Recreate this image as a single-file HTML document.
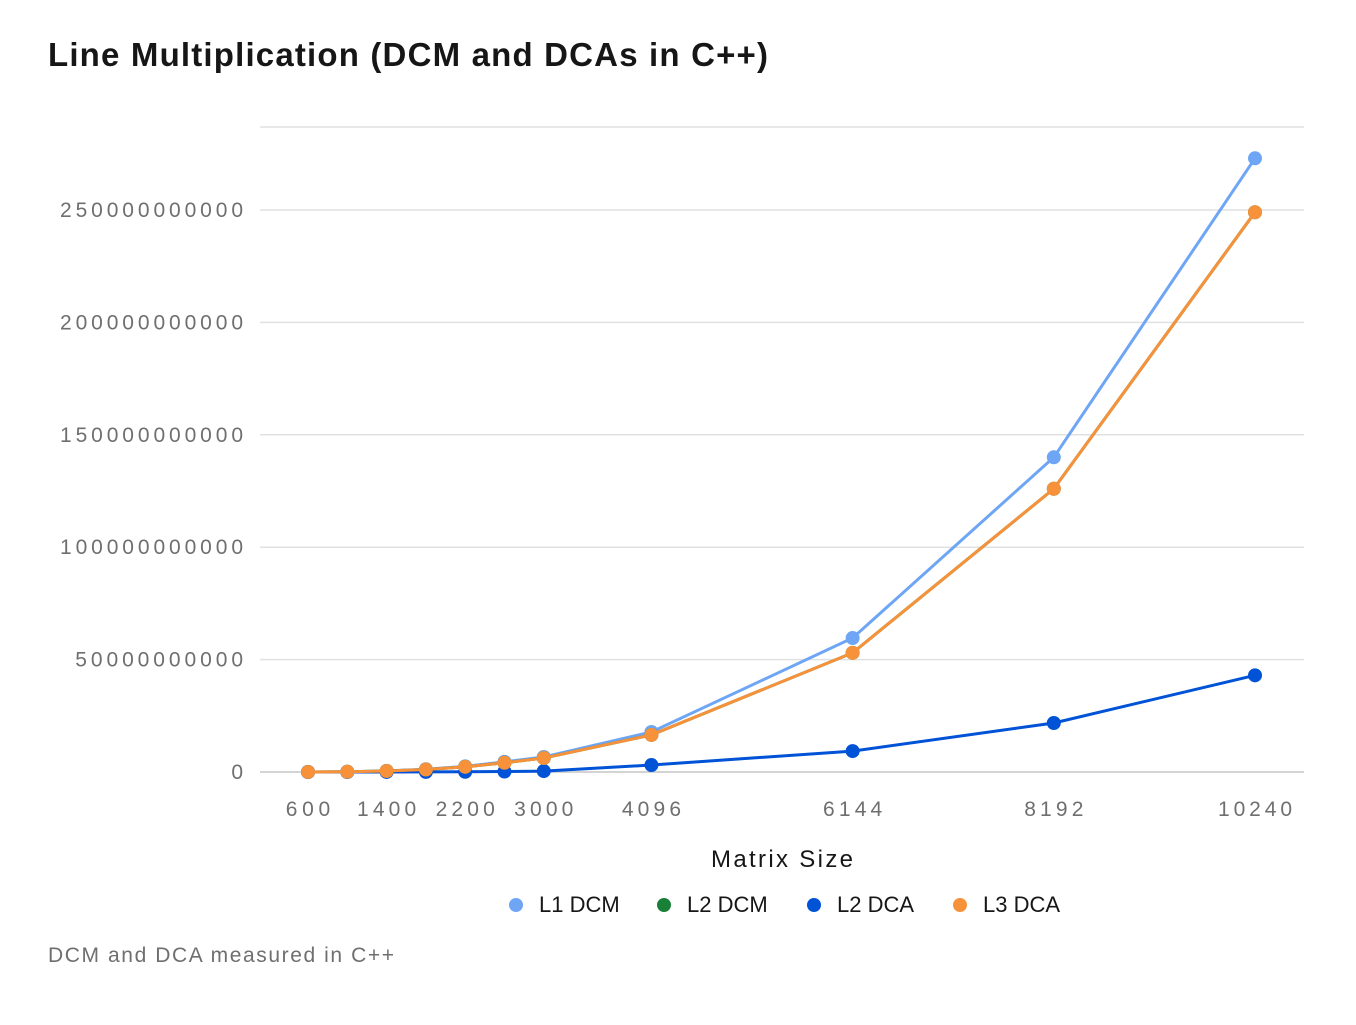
<!DOCTYPE html>
<html><head><meta charset="utf-8"><style>
body{margin:0;background:#fff;font-family:"Liberation Sans",sans-serif;}
svg text{font-family:"Liberation Sans",sans-serif;}
</style></head><body>
<svg id="chart" width="1356" height="1020">
<text x="48" y="66" font-size="33" font-weight="bold" fill="#161616" textLength="720">Line Multiplication (DCM and DCAs in C++)</text>
<g id="grid"></g><g id="yticks"></g><g id="xticks"></g><g id="series"></g>
<text x="782" y="867" font-size="24" fill="#161616" text-anchor="middle" textLength="142">Matrix Size</text>
<g id="legend"></g>
<text x="48" y="962" font-size="21" fill="#6f6f6f" textLength="346">DCM and DCA measured in C++</text>
</svg>
<script>
const sizes=[600,1000,1400,1800,2200,2600,3000,4096,6144,8192,10240];
const xTickLabels=[600,1400,2200,3000,4096,6144,8192,10240];
const yTicks=[0,50e9,100e9,150e9,200e9,250e9];
const l1dcm=[0.02e9,0.12e9,0.5e9,1.2e9,2.5e9,4.5e9,6.7e9,17.8e9,59.6e9,140e9,273e9];
const l2dcm=[0.02e9,0.1e9,0.45e9,1.1e9,2.3e9,4.1e9,6.2e9,16.5e9,53e9,126e9,249e9];
const l2dca=[0,0,0.02e9,0.05e9,0.1e9,0.2e9,0.4e9,3.1e9,9.3e9,21.8e9,43e9];
const l3dca=[0.02e9,0.1e9,0.45e9,1.1e9,2.3e9,4.1e9,6.2e9,16.5e9,53e9,126e9,249e9];
const names=["L1 DCM","L2 DCM","L2 DCA","L3 DCA"];
const colors=["#6ea6f5","#198038","#0052d6","#f7923a"];
const seriesData=[l1dcm,l2dcm,l2dca,l3dca];
const NS="http://www.w3.org/2000/svg";
const X=v=>308+(v-600)*(1255-308)/(10240-600);
const Y=v=>772-v*(772-210)/250e9;
function mk(tag,attrs,parent){const e=document.createElementNS(NS,tag);for(const k in attrs)e.setAttribute(k,attrs[k]);parent.appendChild(e);return e;}
const gridG=document.getElementById('grid'),ytG=document.getElementById('yticks'),xtG=document.getElementById('xticks'),sG=document.getElementById('series'),lgG=document.getElementById('legend');
const topLine=mk('line',{x1:260,x2:1304,y1:127,y2:127,stroke:'#e0e0e0','stroke-width':1.5},gridG);


yTicks.forEach(v=>{
 const l=mk('line',{x1:260,x2:1304,y1:Y(v),y2:Y(v),stroke:v===0?'#c6c6c6':'#e0e0e0','stroke-width':1.5},gridG);
 
 
 const s=String(v);
 const t=mk('text',{x:243,y:Y(v)+7,'font-size':21,fill:'#6f6f6f','text-anchor':'end',textLength:s.length*15.25},ytG);
 t.textContent=s;
 
 
});
xTickLabels.forEach(v=>{
 const s=String(v);
 const t=mk('text',{x:X(v),y:816,'font-size':21,fill:'#6f6f6f','text-anchor':'middle',textLength:s.length*14.8},xtG);
 t.textContent=s;
 
 
});
seriesData.forEach((d,i)=>{
 const g=mk('g',{},sG);
 
 
 const pts=d.map((v,j)=>X(sizes[j])+','+Y(v)).join(' ');
 const pl=mk('polyline',{points:pts,fill:'none',stroke:colors[i],'stroke-width':3},g);
 
 
 d.forEach((v,j)=>{
  const c=mk('circle',{cx:X(sizes[j]),cy:Y(v),r:7,fill:colors[i]},g);
  
  
 });
});
const lx=[516,664,814,960];
names.forEach((n,i)=>{
 const g=mk('g',{},lgG);
 
 
 mk('circle',{cx:lx[i],cy:905,r:7,fill:colors[i]},g);
 const t=mk('text',{x:lx[i]+23,y:912,'font-size':22,fill:'#161616'},g);
 t.textContent=n;
});
</script>
</body></html>
